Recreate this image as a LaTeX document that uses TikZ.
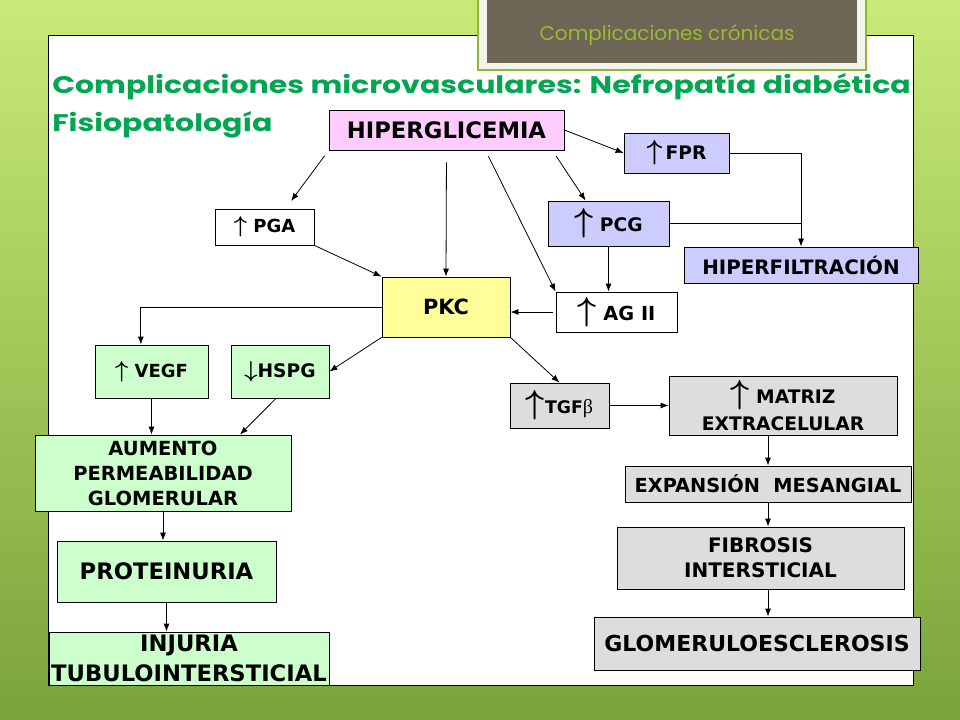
\documentclass[tikz,border=0pt]{standalone}
\usepackage{fontspec}
\setsansfont{DejaVu Sans}
\newfontfamily\titulo{Poppins}
\newfontfamily\tituloancho[FakeStretch=1.25]{Poppins}
\newfontfamily\griega{Liberation Serif}
\usetikzlibrary{arrows.meta,calc}

\definecolor{rosa}{HTML}{FFCCFF}
\definecolor{lila}{HTML}{CCCCFF}
\definecolor{amarillo}{HTML}{FFFF99}
\definecolor{verdeclaro}{HTML}{CCFFCC}
\definecolor{gris}{HTML}{DDDDDD}
\definecolor{verdetitulo}{RGB}{0,166,80}
\definecolor{cafe}{RGB}{109,101,86}
\definecolor{verdecab}{RGB}{155,185,45}
\definecolor{bordecab}{RGB}{140,185,50}
\definecolor{fondoarriba}{RGB}{200,234,120}
\definecolor{fondoabajo}{RGB}{122,163,58}

\newcommand{\sube}[1]{{\fontsize{#1}{#1}\selectfont\boldmath$\uparrow$}}
\newcommand{\baja}[1]{{\fontsize{#1}{#1}\selectfont\boldmath$\downarrow$}}

\tikzset{
  caja/.style={draw, line width=0.6pt, inner sep=0pt, align=center,
    font=\sffamily\bfseries},
  flecha/.style={-{Latex[length=6pt,width=4.5pt]}, line width=0.6pt},
}

\begin{document}
\begin{tikzpicture}[x=0.75pt, y=-0.75pt]
  \useasboundingbox (0,0) rectangle (960,720);
  \shade[top color=fondoarriba, bottom color=fondoabajo] (0,0) rectangle (960,720);
  % panel
  \draw[fill=white, line width=0.75pt] (48,36) rectangle (913,685);
  % cabecera
  \draw[fill={rgb,255:red,244;green,244;blue,238}, draw=bordecab, line width=1pt]
    (478,-5) rectangle (866,70);
  \fill[cafe] (487,-5) rectangle (857,63);
  \node[text=verdecab, font=\titulo\fontsize{15}{18}\selectfont] (cabecera)
    at (667,35) {Complicaciones crónicas};
  % titulo
  \node[anchor=base west, inner sep=0pt, text=verdetitulo,
    font=\tituloancho\bfseries\fontsize{18}{22}\selectfont] (titulo)
    at (52,94) {Complicaciones microvasculares: Nefropatía diabética};
  \node[anchor=base west, inner sep=0pt, text=verdetitulo,
    font=\tituloancho\bfseries\fontsize{18}{22}\selectfont] (subtitulo)
    at (52,132) {Fisiopatología};

  % cajas
  \node[caja, fill=rosa, minimum width=176.25pt, minimum height=30pt,
    font=\sffamily\bfseries\fontsize{17}{20}\selectfont] (hiper)
    at (446.5,130) {HIPERGLICEMIA};
  \node[caja, fill=lila, minimum width=78.75pt, minimum height=30pt,
    font=\sffamily\bfseries\fontsize{14}{17}\selectfont] (fpr)
    at (676.5,153) {\sube{22}\,FPR};
  \node[caja, fill=white, minimum width=74.25pt, minimum height=27pt,
    font=\sffamily\bfseries\fontsize{13.5}{16}\selectfont] (pga)
    at (264.5,227) {\sube{19} PGA};
  \node[caja, fill=lila, minimum width=90.75pt, minimum height=33.75pt,
    font=\sffamily\bfseries\fontsize{14}{17}\selectfont] (pcg)
    at (608.5,223.5) {\sube{23.5} PCG};
  \node[caja, fill=lila, minimum width=175.5pt, minimum height=27pt,
    font=\sffamily\bfseries\fontsize{14.9}{18}\selectfont] (hfil)
    at (801,265) {HIPERFILTRACIÓN};
  \node[caja, fill=amarillo, minimum width=96pt, minimum height=45pt,
    font=\sffamily\bfseries\fontsize{15.7}{19}\selectfont] (pkc)
    at (446,307) {PKC};
  \node[caja, fill=white, minimum width=90.75pt, minimum height=30pt,
    font=\sffamily\bfseries\fontsize{14.5}{17}\selectfont] (ag)
    at (616.5,312) {\sube{28} AG II};
  \node[caja, fill=verdeclaro, minimum width=84.75pt, minimum height=39.75pt,
    font=\sffamily\bfseries\fontsize{13.5}{16}\selectfont] (vegf)
    at (151.5,371.5) {\sube{17} VEGF};
  \node[caja, fill=verdeclaro, minimum width=73.5pt, minimum height=39.75pt,
    font=\sffamily\bfseries\fontsize{14}{17}\selectfont] (hspg)
    at (280,371.5) {\baja{19}HSPG};
  \node[caja, fill=gris, minimum width=74.25pt, minimum height=33.75pt,
    font=\sffamily\bfseries\fontsize{13}{16}\selectfont] (tgf)
    at (559.5,405.5) {\sube{24}TGF{\griega\mdseries\fontsize{15}{16}\selectfont β}};
  \node[caja, fill=gris, minimum width=171pt, minimum height=44.25pt,
    font=\sffamily\bfseries\fontsize{14}{20}\selectfont] (matriz)
    at (783,405.5) {\sube{24} MATRIZ\\EXTRACELULAR};
  \node[caja, fill=verdeclaro, minimum width=192pt, minimum height=57pt,
    font=\sffamily\bfseries\fontsize{14.6}{18.75}\selectfont] (aum)
    at (163,473) {AUMENTO\\PERMEABILIDAD\\GLOMERULAR};
  \node[caja, fill=gris, minimum width=214.5pt, minimum height=27pt,
    font=\sffamily\bfseries\fontsize{14.5}{17}\selectfont] (exp)
    at (768,484) {EXPANSIÓN\ \ MESANGIAL};
  \node[caja, fill=verdeclaro, minimum width=164.25pt, minimum height=45.75pt,
    font=\sffamily\bfseries\fontsize{17}{20}\selectfont] (prot)
    at (166.5,571.5) {PROTEINURIA};
  \node[caja, fill=gris, minimum width=215.25pt, minimum height=46.5pt,
    font=\sffamily\bfseries\fontsize{15}{18.75}\selectfont] (fib)
    at (760.5,558) {FIBROSIS\\INTERSTICIAL};
  \node[caja, fill=verdeclaro, minimum width=210pt, minimum height=39.75pt,
    font=\sffamily\bfseries\fontsize{17}{22.5}\selectfont] (inj)
    at (189,658.5) {INJURIA\\TUBULOINTERSTICIAL};
  \node[caja, fill=gris, minimum width=244.5pt, minimum height=39.75pt,
    font=\sffamily\bfseries\fontsize{16.5}{20}\selectfont] (glom)
    at (757,643.5) {GLOMERULOESCLEROSIS};

  % conectores
  \draw[flecha] (hiper.east) -- (fpr.west);
  \draw[flecha] (fpr.east) -| (hfil.north);
  \draw[line width=0.6pt] (pcg.east) -- (pcg.east -| hfil.north);
  \draw[flecha] (pcg.south) -- (pcg.south |- ag.north);
  \draw[flecha, shorten <=5pt] ($(hiper.south east)+(-12,0)$) -- ($(pcg.north west)+(38,0)$);
  \draw[flecha, shorten <=5pt] ($(hiper.south)+(39,0)$) -- (ag.north west);
  \draw[flecha, shorten <=9pt] (hiper.south) -- (pkc.north);
  \draw[flecha, shorten <=5pt, shorten >=7pt] (hiper.south west) -- ($(pga.north)+(21,0)$);
  \draw[flecha] (pga.south east) -- (pkc.north west);
  \draw[flecha, shorten <=2pt] (ag.west) -- (ag.west -| pkc.east);
  \draw[flecha] (pkc.south east) -- (tgf.north);
  \draw[flecha] (tgf.east) -- (tgf.east -| matriz.west);
  \draw[flecha] (exp.north |- matriz.south) -- (exp.north);
  \draw[flecha] (exp.south) -- (exp.south |- fib.north);
  \draw[flecha] (exp.south |- fib.south) -- (exp.south |- glom.north);
  \draw[flecha] (pkc.west) -| ([xshift=-8pt]vegf.north);
  \draw[flecha] (pkc.south west) -- (hspg.east);
  \draw[flecha] (vegf.south) -- (vegf.south |- aum.north);
  \draw[flecha] ($(hspg.south)+(-4,0)$) -- ($(aum.north)+(77,0)$);
  \draw[flecha] (aum.south) -- (aum.south |- prot.north);
  \draw[flecha] (prot.south) -- (prot.south |- inj.north);
\end{tikzpicture}
\end{document}
